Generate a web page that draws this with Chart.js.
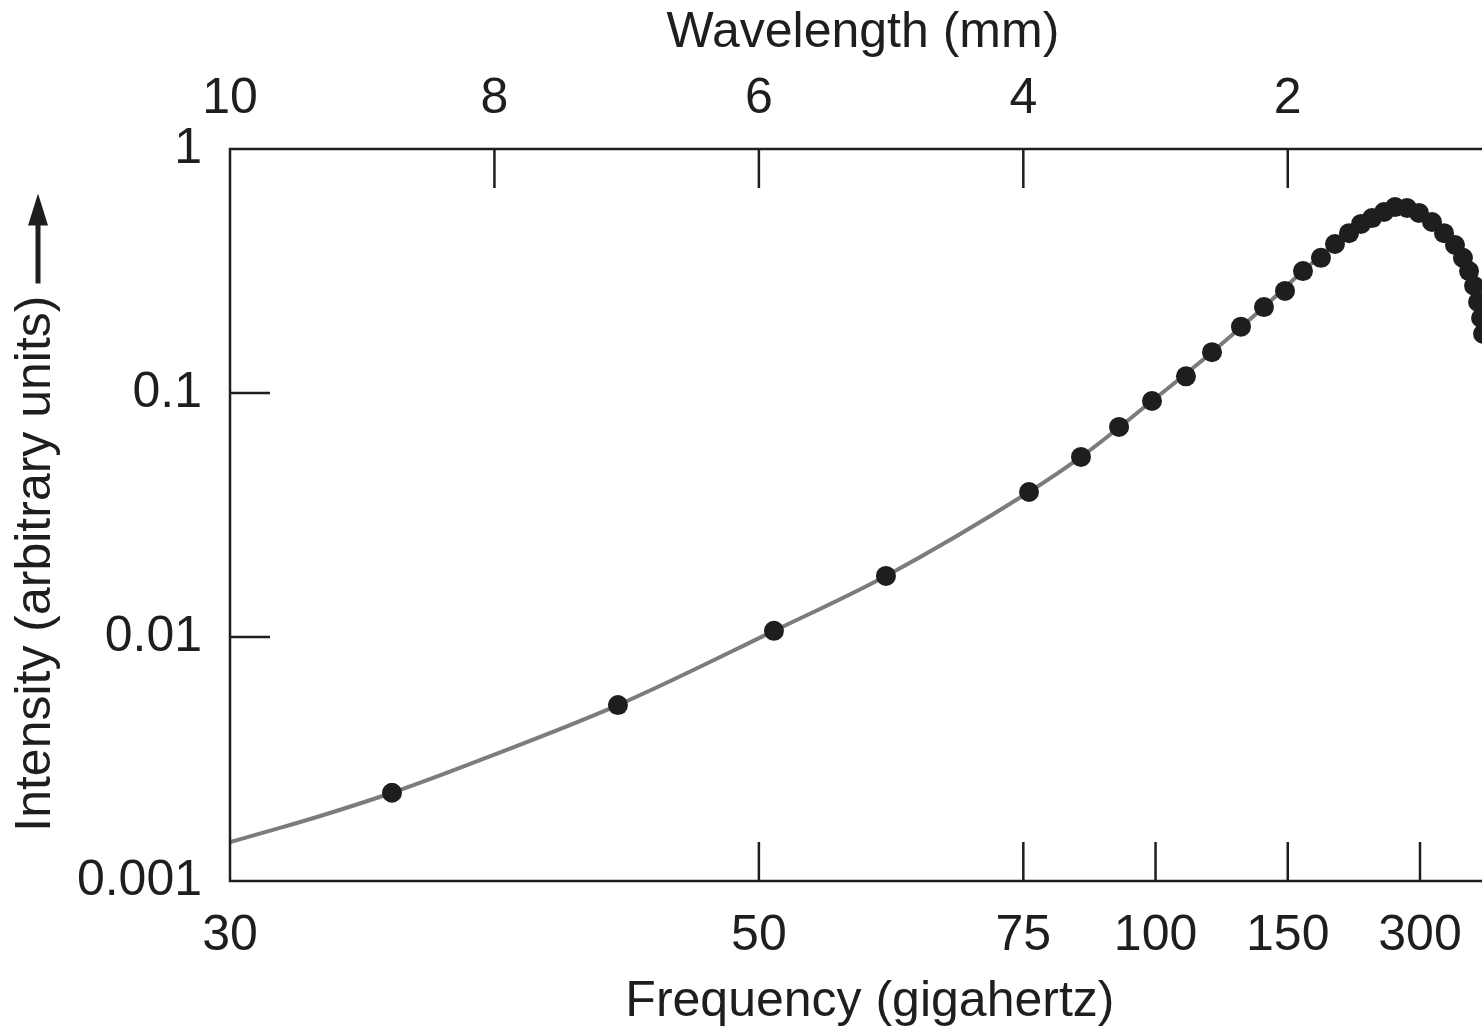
<!DOCTYPE html>
<html>
<head>
<meta charset="utf-8">
<script src="https://cdn.jsdelivr.net/npm/chart.js@4/dist/chart.umd.min.js"></script>
<style>
  html, body { margin: 0; padding: 0; background: #fff; }
  #wrap { width: 1482px; height: 1032px; }
</style>
</head>
<body>
<div id="wrap"><canvas id="c" width="1482" height="1032"></canvas></div>
<script>
// values: wavelength in mm, intensity in arbitrary units
const dotWavelength = [8.775, 7.066, 5.886, 5.039, 3.957, 3.564, 3.276, 3.027, 2.770, 2.573,
  2.354, 2.180, 2.021, 1.885, 1.749, 1.643, 1.537, 1.446, 1.363, 1.272,
  1.189, 1.098, 1.008, 0.909, 0.818, 0.735, 0.675, 0.629, 0.591, 0.561, 0.538, 0.523];
const dotIntensity = [0.00230, 0.00526, 0.0106, 0.0178, 0.0393, 0.0547, 0.0726, 0.0927, 0.117, 0.147,
  0.187, 0.225, 0.262, 0.316, 0.358, 0.408, 0.452, 0.493, 0.521, 0.552,
  0.578, 0.573, 0.547, 0.502, 0.452, 0.404, 0.358, 0.316, 0.275, 0.236, 0.203, 0.175];

// the grey fitted curve
const curveWavelength = [10, 9.622, 9.244, 8.775, 8.109, 7.066, 5.886, 5.039, 3.957,
  3.564, 3.027, 2.573, 2.180, 1.885, 1.643, 1.446, 1.272, 1.189, 1.098,
  1.008, 0.909, 0.818, 0.735, 0.675, 0.629, 0.591, 0.561, 0.538, 0.523];
const curveIntensity = [0.001445, 0.00165, 0.00190, 0.00230, 0.00313, 0.00526, 0.0106, 0.0178, 0.0393,
  0.0547, 0.0927, 0.147, 0.225, 0.316, 0.408, 0.493, 0.552, 0.578, 0.573,
  0.547, 0.502, 0.452, 0.404, 0.358, 0.316, 0.275, 0.236, 0.203, 0.175];

// axes
const wlTicks = [10, 8, 6, 4, 2];
const freqTickWl = [10, 6, 4, 3, 2, 1];
const freqLabels = ['30', '50', '75', '100', '150', '300'];
const yTicks = [0.001, 0.01, 0.1, 1];
const yLabels = ['0.001', '0.01', '0.1', '1'];
const WL_MIN = 0.531, WL_MAX = 10;

const INK = '#1e1e1e';
const FONT = 'Liberation Sans, Arial, Helvetica, sans-serif';
const FSIZE = 50;
const Y_TEXT = 'Intensity (arbitrary units)';
const Y_PAD = '       '; // room left for the arrow

const frame = {
  id: 'frame',
  afterDraw(chart) {
    const { ctx, chartArea: a, scales } = chart;
    ctx.save();
    ctx.strokeStyle = INK;
    ctx.lineWidth = 2.5;
    ctx.beginPath();
    ctx.moveTo(a.right + 2, a.top); ctx.lineTo(a.left, a.top);
    ctx.lineTo(a.left, a.bottom); ctx.lineTo(a.right + 2, a.bottom);
    ctx.stroke();
    const len = 39;
    ctx.beginPath();
    wlTicks.filter(v => v < WL_MAX).forEach(v => {
      const x = scales.xTop.getPixelForValue(v);
      ctx.moveTo(x, a.top); ctx.lineTo(x, a.top + len);
    });
    freqTickWl.filter(v => v < WL_MAX).forEach(v => {
      const x = scales.x.getPixelForValue(v);
      ctx.moveTo(x, a.bottom); ctx.lineTo(x, a.bottom - len);
    });
    yTicks.filter(v => v > 0.001 && v < 1).forEach(v => {
      const y = scales.y.getPixelForValue(v);
      ctx.moveTo(a.left, y); ctx.lineTo(a.left + 40, y);
    });
    ctx.stroke();

    // arrow after the y title
    ctx.font = FSIZE + 'px ' + FONT;
    const full = ctx.measureText(Y_TEXT + Y_PAD).width;
    const txt = ctx.measureText(Y_TEXT).width;
    const cy = (a.top + a.bottom) / 2;
    const cx = scales.y.left + 38;
    const tail = cy + full / 2 - txt - 12;
    const tip = tail - 90;
    ctx.lineWidth = 5;
    ctx.beginPath();
    ctx.moveTo(cx, tail); ctx.lineTo(cx, tip + 24);
    ctx.stroke();
    ctx.fillStyle = INK;
    ctx.beginPath();
    ctx.moveTo(cx, tip); ctx.lineTo(cx - 10, tip + 32); ctx.lineTo(cx + 10, tip + 32);
    ctx.closePath();
    ctx.fill();
    ctx.restore();
  }
};

const tickFont = { family: FONT, size: FSIZE };
const noSidePad = s => { s.paddingLeft = 0; s.paddingRight = 0; };

new Chart(document.getElementById('c'), {
  type: 'line',
  data: {
    datasets: [
      {
        label: 'measured',
        data: dotWavelength.map((w, i) => ({ x: w, y: dotIntensity[i] })),
        showLine: false,
        pointRadius: 10,
        pointBackgroundColor: '#1e1e1e',
        pointBorderWidth: 0,
        order: 0
      },
      {
        label: 'curve',
        data: curveWavelength.map((w, i) => ({ x: w, y: curveIntensity[i] })),
        borderColor: '#7c7c7c',
        borderWidth: 4,
        pointRadius: 0,
        cubicInterpolationMode: 'monotone',
        fill: false,
        order: 1
      }
    ]
  },
  options: {
    responsive: false,
    animation: false,
    layout: { padding: 0, autoPadding: false },
    plugins: { legend: { display: false }, tooltip: { enabled: false } },
    scales: {
      x: {
        type: 'linear', position: 'bottom', reverse: true,
        min: WL_MIN, max: WL_MAX,
        grid: { display: false, drawTicks: false },
        border: { display: false },
        afterBuildTicks: s => { s.ticks = freqTickWl.map(v => ({ value: v })); },
        afterFit: s => { s.height = 151; noSidePad(s); },
        ticks: {
          color: INK, font: tickFont, padding: 25, autoSkip: false, maxRotation: 0,
          callback: v => freqLabels[freqTickWl.indexOf(v)]
        },
        title: { display: true, text: '  Frequency (gigahertz)', color: INK, font: tickFont, padding: { top: 0, bottom: 0 } }
      },
      xTop: {
        type: 'linear', position: 'top', reverse: true,
        min: WL_MIN, max: WL_MAX,
        grid: { display: false, drawTicks: false },
        border: { display: false },
        afterBuildTicks: s => { s.ticks = wlTicks.map(v => ({ value: v })); },
        afterFit: s => { s.height = 149; noSidePad(s); },
        ticks: { color: INK, font: tickFont, padding: 20, autoSkip: false, maxRotation: 0 },
        title: { display: true, text: ' Wavelength (mm)', color: INK, font: tickFont, padding: { top: 3, bottom: 0 } }
      },
      y: {
        type: 'logarithmic', position: 'left',
        min: 0.001, max: 1,
        grid: { display: false, drawTicks: false },
        border: { display: false },
        afterBuildTicks: s => { s.ticks = yTicks.map(v => ({ value: v })); },
        afterFit: s => { s.width = 230; },
        ticks: {
          color: INK, font: tickFont, padding: 28, autoSkip: false,
          callback: v => yLabels[yTicks.indexOf(v)]
        },
        title: { display: true, text: Y_TEXT + Y_PAD, color: INK, font: tickFont, padding: { top: 6, bottom: 0 } }
      }
    }
  },
  plugins: [frame]
});
</script>
</body>
</html>
